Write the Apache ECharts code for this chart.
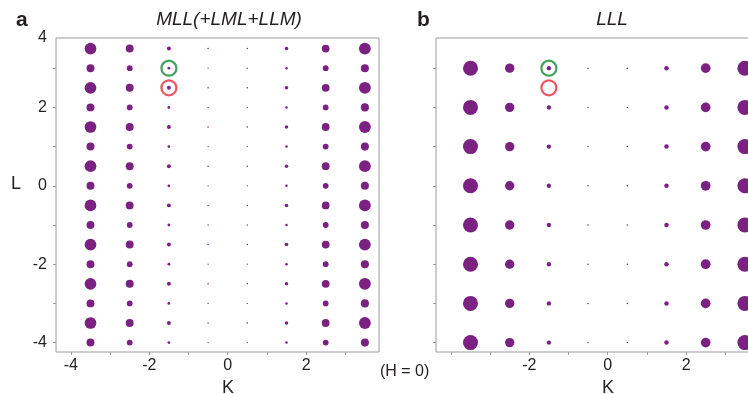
<!DOCTYPE html>
<html>
<head>
<meta charset="utf-8">
<script src="https://cdn.jsdelivr.net/npm/echarts@6/dist/echarts.min.js"></script>
<style>
    html, body { margin: 0; padding: 0; background: #fff; }
    #chart { width: 748px; height: 394px; }
</style>
</head>
<body>
<div id="chart"></div>
<script>
// K columns, same in both panels
var kValues = [-3.5, -2.5, -1.5, -0.5, 0.5, 1.5, 2.5, 3.5];
// panel a: L rows every 0.5
var lValuesA = [-4, -3.5, -3, -2.5, -2, -1.5, -1, -0.5, 0, 0.5, 1, 1.5, 2, 2.5, 3, 3.5];
var intensityAHalf = [61, 28, 7, 1, 1, 5.5, 27, 62];   // half-integer L rows
var intensityAInt = [28, 15, 3.5, 0.75, 0.75, 2.8, 15, 29]; // integer L rows
// panel b: L rows every 1
var lValuesB = [-4, -3, -2, -1, 0, 1, 2, 3];
var intensityB = [100, 39, 8.5, 1, 1, 9, 42, 100];
// circled reflections
var greenMark = [[-1.5, 3]];
var redMark = [[-1.5, 2.5]];
// axis ticks / labels
var xTicks = [-4, -3, -2, -1, 0, 1, 2, 3];
var xLabelsA = [-4, -2, 0, 2];
var xLabelsB = [-2, 0, 2];
var yTicks = [-4, -3, -2, -1, 0, 1, 2, 3];
var yLabelsA = [-4, -2, 0, 2];

var X_MIN = -4.38, X_MAX = 3.86;
var Y_MIN = -4.24, Y_MAX = 3.77;
var dotColor = '#7a2181';
var textColor = '#231f20';
var frameColor = '#9a9a9a';
var font = 'Liberation Sans';

var chart = echarts.init(document.getElementById('chart'));

function buildA() {
    var out = [];
    lValuesA.forEach(function (l) {
        var row = (l % 1 === 0) ? intensityAInt : intensityAHalf;
        kValues.forEach(function (k, i) {
            out.push([k, l, row[i]]);
        });
    });
    return out;
}
function buildB() {
    var out = [];
    lValuesB.forEach(function (l) {
        kValues.forEach(function (k, i) {
            out.push([k, l, intensityB[i]]);
        });
    });
    return out;
}
function dotSize(d) {
    return 1.5 * Math.sqrt(d[2]);
}

function xAxisOf(idx, labels) {
    return {
        gridIndex: idx,
        type: 'value',
        min: X_MIN,
        max: X_MAX,
        axisLine: { show: false, onZero: false },
        axisTick: { show: true, customValues: xTicks, length: 3, lineStyle: { color: frameColor } },
        axisLabel: { customValues: labels, margin: 6, fontSize: 16, color: textColor, fontFamily: font },
        splitLine: { show: false },
        name: 'K',
        nameLocation: 'middle',
        nameGap: 23,
        nameTextStyle: { fontSize: 18, color: textColor, fontFamily: font, padding: [0, 0, 0, 21] }
    };
}
function yAxisOf(idx, showLabels) {
    return {
        gridIndex: idx,
        type: 'value',
        min: Y_MIN,
        max: Y_MAX,
        axisLine: { show: false, onZero: false },
        axisTick: { show: true, customValues: yTicks, length: 3, lineStyle: { color: frameColor } },
        axisLabel: {
            show: showLabels,
            customValues: showLabels ? yLabelsA.concat([Y_MAX]) : [],
            margin: 9,
            fontSize: 16,
            color: textColor,
            fontFamily: font,
            formatter: function (v) { return v > 3.5 ? '4' : String(v); }
        },
        splitLine: { show: false }
    };
}
function ringSeries(idx, data, color) {
    return {
        type: 'scatter',
        xAxisIndex: idx,
        yAxisIndex: idx,
        data: data,
        symbol: 'circle',
        symbolSize: 15,
        z: 5,
        itemStyle: { color: 'rgba(0,0,0,0)', borderColor: color, borderWidth: 2.2 },
        silent: true
    };
}

var option = {
    animation: false,
    backgroundColor: '#fff',
    title: [
        { text: 'a', left: 11, top: 5, textStyle: { fontSize: 21, fontWeight: 'bold', color: textColor, fontFamily: font } },
        { text: 'b', left: 412, top: 5, textStyle: { fontSize: 21, fontWeight: 'bold', color: textColor, fontFamily: font } },
        { text: 'MLL(+LML+LLM)', left: 224, top: 5, textAlign: 'center',
          textStyle: { fontSize: 19, fontStyle: 'italic', fontWeight: 'normal', color: textColor, fontFamily: font } },
        { text: 'LLL', left: 607, top: 5, textAlign: 'center',
          textStyle: { fontSize: 19, fontStyle: 'italic', fontWeight: 'normal', color: textColor, fontFamily: font } }
    ],
    graphic: [
        { type: 'text', left: 11, top: 175, style: { text: 'L', fontSize: 18, fill: textColor, fontFamily: font } },
        { type: 'text', left: 380, top: 364, style: { text: '(H = 0)', fontSize: 16, fill: textColor, fontFamily: font } }
    ],
    grid: [
        { left: 56, top: 38, width: 323, height: 314, show: true, borderColor: frameColor, borderWidth: 1,
          outerBoundsMode: 'none' },
        { left: 436, top: 38, width: 323, height: 314, show: true, borderColor: frameColor, borderWidth: 1,
          outerBoundsMode: 'none' }
    ],
    xAxis: [xAxisOf(0, xLabelsA), xAxisOf(1, xLabelsB)],
    yAxis: [yAxisOf(0, true), yAxisOf(1, false)],
    series: [
        {
            type: 'scatter',
            xAxisIndex: 0,
            yAxisIndex: 0,
            data: buildA(),
            symbolSize: dotSize,
            itemStyle: { color: dotColor, opacity: 1 }
        },
        {
            type: 'scatter',
            xAxisIndex: 1,
            yAxisIndex: 1,
            data: buildB(),
            symbolSize: dotSize,
            itemStyle: { color: dotColor, opacity: 1 }
        },
        ringSeries(0, greenMark, '#138a35'),
        ringSeries(0, redMark, '#e82a3a'),
        ringSeries(1, greenMark, '#138a35'),
        ringSeries(1, redMark, '#e82a3a')
    ]
};
chart.setOption(option);
</script>
</body>
</html>
